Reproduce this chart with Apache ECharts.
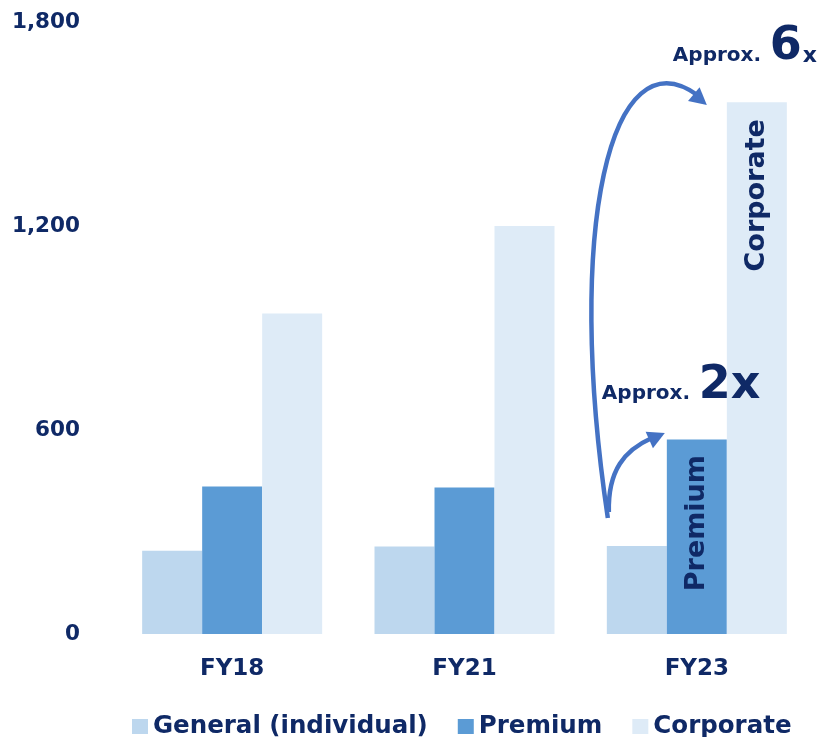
<!DOCTYPE html>
<html>
<head>
<meta charset="utf-8">
<script src="https://cdn.jsdelivr.net/npm/echarts@6/dist/echarts.min.js"></script>
<style>
  html, body { margin: 0; padding: 0; background: #ffffff; }
  #chart { width: 819px; height: 737px; }
</style>
</head>
<body>
<div id="chart"></div>
<script>
// Fiscal years and member counts per plan type
const categories = ['FY18', 'FY21', 'FY23'];
const generalValues = [245, 257, 259];
const premiumValues = [434, 431, 572];
const corporateValues = [943, 1200, 1564];
const yTicks = [0, 600, 1200, 1800];
const seriesNames = ['General (individual)', 'Premium', 'Corporate'];

const FONT = '"DejaVu Sans", Verdana, sans-serif';
const NAVY = '#0f2966';
const ARROW = '#4472C4';
const COLORS = ['#BDD7EE', '#5B9BD5', '#DEEBF7'];

// Vertical in-bar caption for the latest year
function captioned(values, text, pos) {
  return values.map((v, i) => i === values.length - 1 ? {
    value: v,
    label: {
      show: true, formatter: text, rotate: 90, position: pos,
      align: 'center', verticalAlign: 'middle',
      color: NAVY, fontFamily: FONT, fontWeight: 'bold', fontSize: 27
    }
  } : v);
}

const option = {
  animation: false,
  backgroundColor: '#ffffff',
  textStyle: { fontFamily: FONT },
  grid: { left: 116, right: 6, top: 22, bottom: 103, containLabel: false },
  legend: {
    left: 127, top: 709,
    itemWidth: 16, itemHeight: 15, itemGap: 30,
    icon: 'rect',
    textStyle: { color: NAVY, fontFamily: FONT, fontWeight: 'bold', fontSize: 24.5 },
    data: seriesNames
  },
  xAxis: {
    type: 'category',
    data: categories,
    axisLine: { show: false },
    axisTick: { show: false },
    axisLabel: { color: NAVY, fontFamily: FONT, fontWeight: 'bold', fontSize: 23, margin: 24 }
  },
  yAxis: {
    type: 'value',
    min: yTicks[0], max: yTicks[yTicks.length - 1], interval: yTicks[1] - yTicks[0],
    splitLine: { show: false },
    axisLine: { show: false },
    axisTick: { show: false },
    axisLabel: {
      color: NAVY, fontFamily: FONT, fontWeight: 'bold', fontSize: 21.5, margin: 36,
      padding: [10, 0, 0, 0],
      formatter: v => v.toLocaleString('en-US')
    }
  },
  series: [
    { name: seriesNames[0], type: 'bar', barWidth: 60, barGap: '0%', data: generalValues,
      itemStyle: { color: COLORS[0] } },
    { name: seriesNames[1], type: 'bar', barWidth: 60, barGap: '0%',
      data: captioned(premiumValues, 'Premium', ['50%', '43%']),
      itemStyle: { color: COLORS[1] } },
    { name: seriesNames[2], type: 'bar', barWidth: 60, barGap: '0%',
      data: captioned(corporateValues, 'Corporate', ['50%', '17.5%']),
      itemStyle: { color: COLORS[2] } }
  ]
};

const chart = echarts.init(document.getElementById('chart'));
chart.setOption(option);

// Growth arrows and captions, placed relative to the FY23 group on the zero line
const base = chart.convertToPixel({ gridIndex: 0 }, [categories.length - 1, 0]);
const P = (dx, dy) => [base[0] + dx, base[1] + dy];

function curve(p0, p1, p2, p3) {
  return {
    type: 'bezierCurve', z: 10,
    shape: { x1: p0[0], y1: p0[1], cpx1: p1[0], cpy1: p1[1],
             cpx2: p2[0], cpy2: p2[1], x2: p3[0], y2: p3[1] },
    style: { fill: null, stroke: ARROW, lineWidth: 4.5, lineCap: 'butt' }
  };
}

function arrowHead(tip, angleDeg, len, half) {
  const a = angleDeg * Math.PI / 180;
  const ux = Math.cos(a), uy = Math.sin(a);
  const bx = tip[0] - len * ux, by = tip[1] - len * uy;
  return {
    type: 'polygon', z: 10,
    shape: { points: [tip, [bx - half * uy, by + half * ux], [bx + half * uy, by - half * ux]] },
    style: { fill: ARROW }
  };
}

const txt = (text, x, y, size) => ({
  type: 'text', z: 20,
  style: {
    text, x, y, fill: NAVY,
    font: 'bold ' + size + 'px ' + FONT,
    align: 'left', verticalAlign: 'middle',
    textAlign: 'left', textVerticalAlign: 'middle'
  }
});

chart.setOption({
  graphic: [
    // long arrow: up from the General bar, over the top to the Corporate bar
    curve(P(-89, -116), P(-132, -404), P(-87, -604), P(2, -538)),
    arrowHead(P(10, -529), 40, 17, 9),
    // short arrow: up to the Premium bar
    curve(P(-88, -122), P(-89, -164), P(-72, -184), P(-45, -196)),
    arrowHead(P(-32, -201), -24, 17, 9),
    txt('Approx.', P(-24, 0)[0], P(0, -578)[1], 20),
    txt('6', P(73, 0)[0], P(0, -587)[1], 46),
    txt('x', P(106, 0)[0], P(0, -578)[1], 22),
    txt('Approx.', P(-95, 0)[0], P(0, -240)[1], 20),
    txt('2x', P(2, 0)[0], P(0, -248)[1], 46)
  ]
});
</script>
</body>
</html>
